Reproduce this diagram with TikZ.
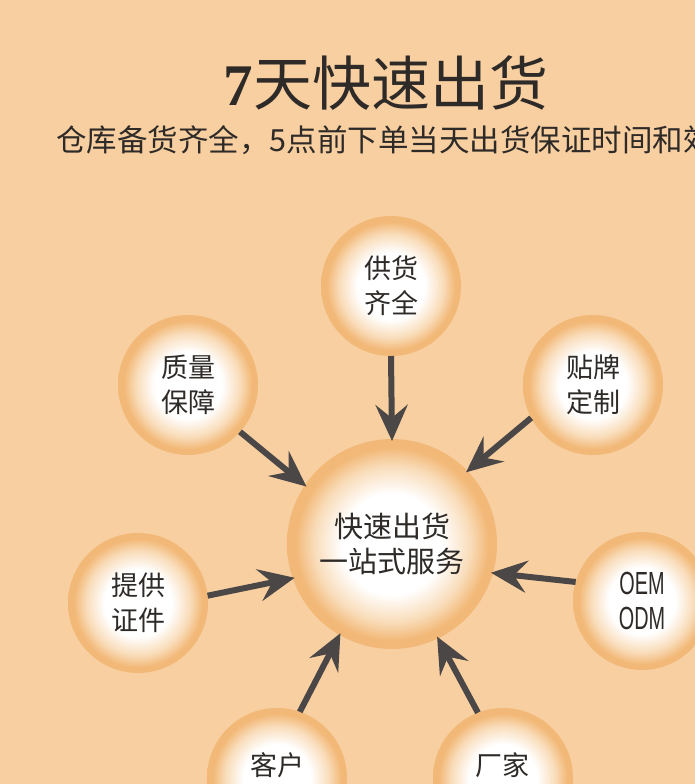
\documentclass[tikz,border=0pt]{standalone}
\usepackage{fontspec}
\usetikzlibrary{arrows.meta}
\newfontfamily\cjk{Noto Sans CJK SC}
\newfontfamily\serifL{Liberation Serif}
\newfontfamily\narrowL{Liberation Sans}[FakeStretch=0.62]
\definecolor{bgc}{HTML}{F8CFA0}
\definecolor{ringc}{HTML}{F2B877}
\definecolor{midc}{HTML}{F9DDBB}
\definecolor{arrc}{HTML}{4B4746}
\definecolor{txtc}{HTML}{2E2A28}
\pgfdeclareradialshading{ball}{\pgfpoint{0bp}{0bp}}{color(0bp)=(white); color(12bp)=(white); color(18.5bp)=(midc); color(23bp)=(ringc); color(25bp)=(ringc); color(50bp)=(ringc)}
\tikzset{
  ball/.style={circle, shade, shading=ball, draw=none, inner sep=0pt, outer sep=0pt, minimum size=140pt,
    text=txtc, align=center, font=\cjk\fontsize{27}{35}\selectfont},
  bigball/.style={ball, minimum size=210pt, font=\cjk\fontsize{29}{35}\selectfont},
  arr/.style={draw=arrc, line width=6pt, -{Stealth[length=36pt, width=32pt, inset=13pt]}, shorten >=-2pt},
  lbl/.style={text=txtc, inner sep=0pt, font=\cjk\fontsize{27}{35}\selectfont}
}
\begin{document}
\begin{tikzpicture}[x=1pt,y=-1pt]
\useasboundingbox (0,0) rectangle (695,784);
\clip (0,0) rectangle (695,784);
\fill[bgc] (0,0) rectangle (695,784);
% title
\node[text=txtc, inner sep=0pt] (title) at (386,83) {\cjk\fontsize{59}{60}\selectfont{\serifL\bfseries 7}天快速出货};
\node[text=txtc, inner sep=0pt, anchor=west] (sub) at (56,140) {\cjk\fontsize{30.5}{32}\selectfont 仓库备货齐全，5点前下单当天出货保证时间和效};
% circles
\node[bigball] (c) at (392,544) {快速出货\\一站式服务};
\node[ball] (g) at (391,286) {供货\\齐全};
\node[ball] (q) at (188,385) {质量\\保障};
\node[ball] (t) at (593,385) {贴牌\\定制};
\node[ball] (z) at (138,603) {提供\\证件};
\node[ball, minimum size=138pt, font=\narrowL\fontsize{32}{35}\selectfont] (o) at (642,601) {OEM\\ODM};
\node[ball] (k) at (277,778) {};
\node[ball] (f) at (503,778) {};
\node[lbl] (kt) at (277,765) {客户};
\node[lbl] (ft) at (502,765) {厂家};
% arrows
\draw[arr] (g.-90) -- (c.90);
\draw[arr] (q.-42) -- (c.146.5);
\draw[arr] (t.208) -- (c.44);
\draw[arr] (z.6) -- (c.199);
\draw[arr] (o.164) -- (c.-16);
\draw[arr] (k.71) -- (c.240.6);
\draw[arr] (f.111.5) -- (c.-64.4);
\end{tikzpicture}
\end{document}
